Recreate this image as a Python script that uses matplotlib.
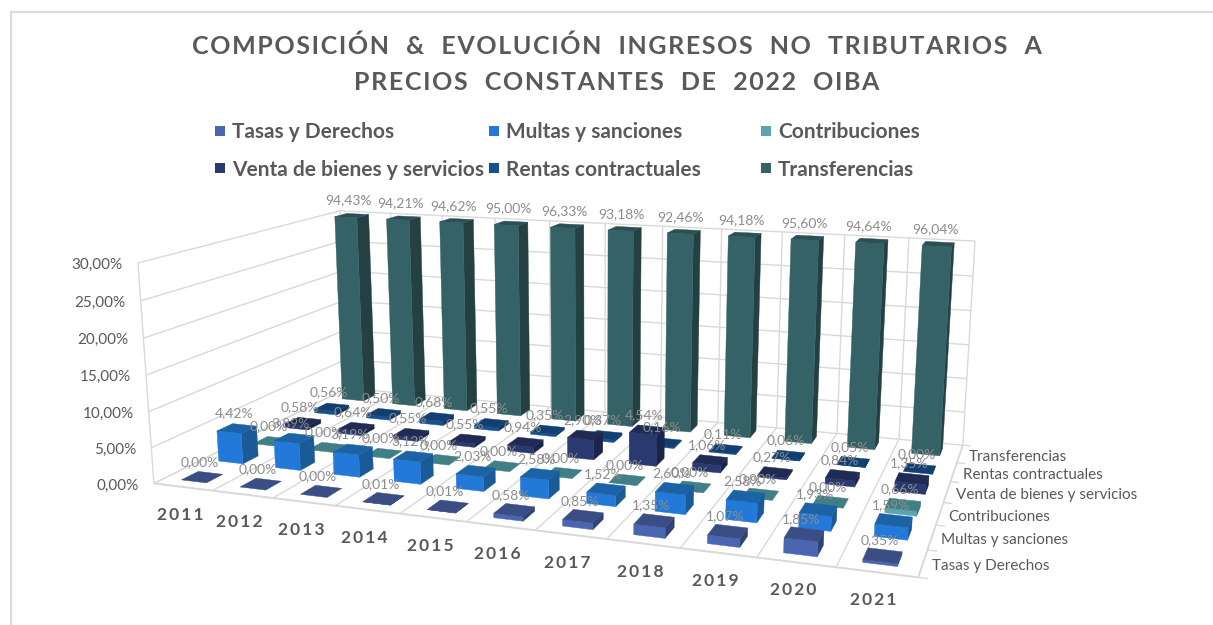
import numpy as np
import matplotlib
matplotlib.use('Agg')
import matplotlib.pyplot as plt

plt.rcParams['font.family'] = ['Lato', 'DejaVu Sans']

years = ['2011', '2012', '2013', '2014', '2015', '2016', '2017', '2018', '2019', '2020', '2021']
series = ['Tasas y Derechos', 'Multas y sanciones', 'Contribuciones',
          'Venta de bienes y servicios', 'Rentas contractuales', 'Transferencias']

tasas = [0.00, 0.00, 0.00, 0.01, 0.01, 0.58, 0.85, 1.35, 1.07, 1.85, 0.35]
multas = [4.42, 3.89, 3.19, 3.12, 2.03, 2.58, 1.52, 2.60, 2.58, 1.93, 1.59]
contrib = [0.00, 0.00, 0.00, 0.00, 0.00, 0.00, 0.00, 0.00, 0.00, 0.00, 0.66]
venta = [0.58, 0.64, 0.55, 0.55, 0.94, 2.90, 4.54, 1.06, 0.27, 0.84, 1.35]
rentas = [0.56, 0.50, 0.68, 0.55, 0.35, 0.37, 0.16, 0.11, 0.06, 0.05, 0.00]
transf = [94.43, 94.21, 94.62, 95.00, 96.33, 93.18, 92.46, 94.18, 95.60, 94.64, 96.04]
values = [tasas, multas, contrib, venta, rentas, transf]
zticks = [0, 5, 10, 15, 20, 25, 30]

# front, top, side
colors = [('#4a66b2', '#3a4d85', '#2f4175'),
          ('#2279d8', '#1c62a6', '#1a5a96'),
          ('#5aa5af', '#3f7f85', '#356c72'),
          ('#2a3a70', '#1f2b55', '#1a2549'),
          ('#17508f', '#123f72', '#0f3560'),
          ('#356266', '#2a5053', '#234043')]
grey = '#d9d9d9'
txt = '#595959'
lbl = '#8c8c8c'

nx, ny = len(years), len(series)
zmax = zticks[-1]

# corners of the 3d box in the picture -> camera matrix
world = [(0, 0, 0), (nx, 0, 0), (0, ny, 0), (nx, ny, 0), (0, 0, zmax), (0, ny, zmax), (nx, ny, zmax)]
image = [(154, 482), (918, 579), (347, 390), (963, 443), (138, 263), (340, 210), (975, 242)]
A, b = [], []
for (X, Y, Z), (u, v) in zip(world, image):
    A.append([X, Y, Z, 1, 0, 0, 0, 0, -u*X, -u*Y, -u*Z])
    A.append([0, 0, 0, 0, X, Y, Z, 1, -v*X, -v*Y, -v*Z])
    b += [u, v]
cam = np.append(np.linalg.lstsq(np.array(A, float), np.array(b, float), rcond=None)[0], 1).reshape(3, 4)


def pr(x, y, z):
    p = cam @ np.array([x, y, z, 1.0])
    return p[0]/p[2], p[1]/p[2]


def line3(a, b, lw=1.0, c=grey):
    pa, pb = pr(*a), pr(*b)
    ax.plot([pa[0], pb[0]], [pa[1], pb[1]], color=c, lw=lw, solid_capstyle='butt', zorder=1)


def face(pts, c):
    xy = np.array([pr(*p) for p in pts])
    ax.fill(xy[:, 0], xy[:, 1], color=c, lw=0.3, zorder=3)


def spaced(s, gap='\u200a'):
    return gap.join(s)


def pct(v):
    return ('%.2f%%' % v).replace('.', ',')


fig = plt.figure(figsize=(12.13, 6.25), dpi=100)
ax = fig.add_axes([0, 0, 1, 1])
ax.set_xlim(0, 1213)
ax.set_ylim(625, 0)
ax.axis('off')

# frame of the pasted chart
ax.plot([10.5, 10.5, 1213], [625, 12, 12], color='#dcdcdc', lw=1.6, zorder=1)

# walls and floor
for z in zticks:
    line3((0, 0, z), (0, ny, z))
    line3((0, ny, z), (nx, ny, z))
    x0, y0 = pr(0, 0, z)
    ax.text(x0-15, y0+2, pct(z), ha='right', va='center', fontsize=11, color=txt)
line3((0, 0, 0), (0, 0, zmax))
for i in range(nx+1):
    line3((i, 0, 0), (i, ny, 0))
    line3((i, ny, 0), (i, ny, zmax))
line3((0, 0, 0), (nx, 0, 0), lw=1.4)
line3((nx, 0, 0), (nx, ny, 0), lw=1.2)
for j in range(ny+1):
    line3((nx, j, 0), (nx+0.12, j, 0))

# axis labels
for i, y in enumerate(years):
    px, py = pr(i+0.5, 0, 0)
    ax.text(px-3, py+28, spaced(y, '\u2009'), ha='center', va='center', fontsize=12.5,
            fontweight='bold', color=txt)
for j, s in enumerate(series):
    px, py = pr(nx, j+0.5, 0)
    ax.text(px+9, py+3, s, ha='left', va='center', fontsize=11, color=txt)

# bars, back row first and left to right
wx, wy = 0.215, 0.22
for j in range(ny-1, -1, -1):
    for i in range(nx):
        h = min(values[j][i], zmax)
        cx, cy = i+0.5, j+0.5
        x0, x1, y0, y1 = cx-wx, cx+wx, cy-wy, cy+wy
        front, top, side = colors[j]
        if h > 0:
            face([(x1, y0, 0), (x1, y1, 0), (x1, y1, h), (x1, y0, h)], side)
            face([(x0, y0, 0), (x1, y0, 0), (x1, y0, h), (x0, y0, h)], front)
        face([(x0, y0, h), (x1, y0, h), (x1, y1, h), (x0, y1, h)], top)

# value labels go over everything
for j in range(ny):
    for i in range(nx):
        v = values[j][i]
        px, py = pr(i+0.5, j+0.5, min(v, zmax))
        ax.text(px-3, py-15, pct(v), ha='center', va='center',
                fontsize=10, color=lbl, zorder=5)

# title
ax.text(617, 46, spaced('COMPOSICIÓN  &  EVOLUCIÓN  INGRESOS  NO  TRIBUTARIOS  A'),
        ha='center', va='center', fontsize=18, fontweight='bold', color=txt)
ax.text(617, 82, spaced('PRECIOS  CONSTANTES  DE  2022  OIBA'),
        ha='center', va='center', fontsize=18, fontweight='bold', color=txt)

# legend
leg_x = [220, 494, 766]
leg_y = [131, 168]
for k, s in enumerate(series):
    lx, ly = leg_x[k % 3], leg_y[k//3]
    ax.fill([lx-5, lx+5, lx+5, lx-5], [ly-5, ly-5, ly+5, ly+5], color=colors[k][0], lw=0)
    ax.text(lx+12, ly+1.5, s, ha='left', va='center', fontsize=15, fontweight='bold', color=txt)

plt.savefig('out.png', dpi=100)
